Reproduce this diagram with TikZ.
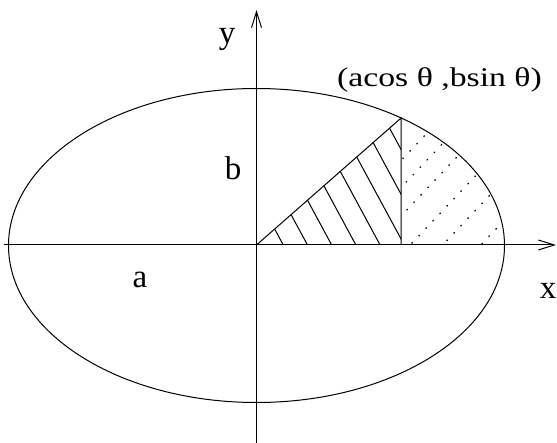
\documentclass[tikz,border=0pt]{standalone}
\usepackage{fontspec}
\setmainfont{Liberation Serif}
\usetikzlibrary{arrows.meta}
\begin{document}
\begin{tikzpicture}[x=1pt,y=-1pt, line width=1pt,
  arr/.style={-{Straight Barb[length=16pt,width=10pt,line width=1pt]}},
  lbl/.style={font=\fontsize{33}{33}\selectfont, inner sep=0pt},
  ptlbl/.style={font=\fontsize{27}{27}\selectfont\addfontfeature{FakeStretch=1.25}, inner sep=0pt},
  hatch/.style={line width=1pt},
  dots/.style={line width=1.3pt, line cap=round, dash pattern=on 0.8pt off 9.39pt}]
\useasboundingbox (0,0) rectangle (557,443);
\def\th{54.3}
\coordinate (O) at (256.5,245);
\coordinate (P) at ({256.5+248*cos(\th)},{245-156.5*sin(\th)});
\coordinate (F) at (P |- O);
\coordinate (E) at (504.5,245);
\coordinate (xs) at (4,245);
\coordinate (xe) at (556,245);
\coordinate (ys) at (256.5,443);
\coordinate (ye) at (256.5,10);
% hatched triangle
\begin{scope}
  \clip (O) -- (P) -- (F) -- cycle;
  \foreach \k in {-2,...,9}
    \draw[hatch] ({283.3+24.2*\k-120},{245-1.85*120}) -- ++(240,{1.85*240});
\end{scope}
% dotted region
\begin{scope}
  \clip (F) -- plot[domain=\th:0, samples=50] ({256.5+248*cos(\x)},{245-156.5*sin(\x)}) -- cycle;
  \foreach \ax/\ay in {402.7/158.7, 406/182.3, 406.7/210, 411.7/243.3, 446.7/240.7, 481.7/244}
    \draw[dots] ({\ax-20*7},{\ay+20*7.4}) -- ++({40*7},{-40*7.4});
\end{scope}
% ellipse
\draw (256.5,245.5) ellipse [x radius=248pt, y radius=157pt];
% triangle
\draw (O) -- (P) -- (F);
% axes
\draw[arr] (xs) -- (xe);
\draw[arr] (ys) -- (ye);
% labels
\node[lbl] (ly) at (227,39) {y};
\node[lbl] (lb) at (233,168) {b};
\node[lbl] (la) at (140,279.5) {a};
\node[lbl] (lx) at (548,291) {x};
\node[ptlbl] (lp) at (439.5,80) {(acos θ ,bsin θ)};
\end{tikzpicture}
\end{document}
